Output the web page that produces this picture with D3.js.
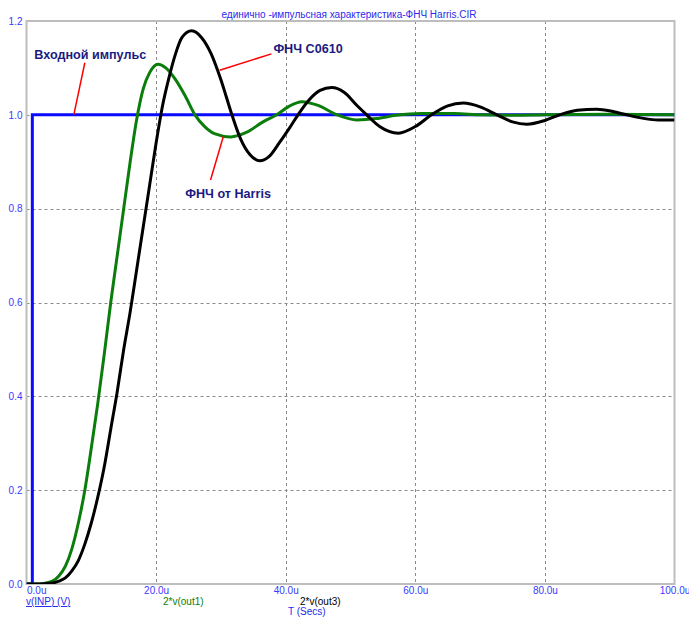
<!DOCTYPE html>
<html><head><meta charset="utf-8">
<script src="https://cdn.jsdelivr.net/npm/d3@7"></script>
<style>
html,body{margin:0;padding:0;background:#fff;}
svg{display:block;font-family:Arial,"Liberation Sans",sans-serif;}
</style></head>
<body><svg id="chart" width="689" height="617"></svg>
<script>
const chartTitle = "единично -импульсная характеристика-ФНЧ Harris.CIR";
const xTickValues = [0, 20, 40, 60, 80, 100];
const xTickLabels = ["0.0u", "20.0u", "40.0u", "60.0u", "80.0u", "100.0u"];
const yTickValues = [0, 0.2, 0.4, 0.6, 0.8, 1.0, 1.2];
const yTickLabels = ["0.0", "0.2", "0.4", "0.6", "0.8", "1.0", "1.2"];

// input pulse v(INP)
const inpTime = [0, 0.9, 0.9, 100];
const inpValues = [0, 0, 1.0, 1.0];

// 2*v(out1) — ФНЧ от Harris (green)
const out1Time = [0, 2, 3, 4, 5, 6, 7, 8, 9, 10, 11, 12, 13, 14, 15, 16, 17, 18, 19, 20.3, 21.5, 23, 24.5, 26, 27.5, 29, 31.5, 34, 36.5, 38.6, 40.5, 42.5, 45, 47.9, 51, 54, 57, 61, 66, 70, 75, 80, 90, 100];
const out1Values = [0, 0, 0.002, 0.006, 0.017, 0.038, 0.075, 0.13, 0.2, 0.29, 0.385, 0.49, 0.6, 0.7, 0.8, 0.9, 0.99, 1.055, 1.09, 1.108, 1.1, 1.075, 1.04, 1.0, 0.975, 0.96, 0.953, 0.963, 0.985, 1.0, 1.018, 1.028, 1.02, 1.0, 0.989, 0.992, 0.999, 1.003, 1.003, 1.0, 0.999, 1.0, 1.001, 1.0];

// 2*v(out3) — ФНЧ С0610 (black)
const out3Time = [0, 2, 4, 5, 6, 7, 8, 9, 10, 11, 12, 13, 14, 15, 16, 17, 18, 19, 20, 21, 22, 23, 24, 25.5, 27, 28.5, 30, 31.7, 33, 34.5, 36, 37.5, 39, 40.5, 41.9, 43.5, 45.3, 47.1, 49, 51, 52.5, 54.5, 57.4, 60, 62.5, 65, 67.4, 70, 72.6, 75, 77.2, 80, 82.3, 85, 88, 90.5, 92.6, 95, 97.5, 100];
const out3Values = [0, 0, 0.002, 0.006, 0.013, 0.028, 0.05, 0.085, 0.13, 0.185, 0.25, 0.33, 0.41, 0.5, 0.58, 0.67, 0.76, 0.85, 0.94, 1.02, 1.08, 1.13, 1.165, 1.179, 1.165, 1.13, 1.075, 1.0, 0.95, 0.915, 0.902, 0.912, 0.94, 0.97, 1.0, 1.03, 1.052, 1.058, 1.048, 1.02, 1.0, 0.975, 0.961, 0.975, 1.0, 1.019, 1.025, 1.017, 1.0, 0.985, 0.980, 0.988, 1.0, 1.01, 1.012, 1.007, 1.0, 0.993, 0.989, 0.989];

const legendLabels = ["v(INP) (V)", "2*v(out1)", "2*v(out3)"];
const xAxisTitle = "T (Secs)";

const annotations = [
  {text: "Входной импульс", tx: 1.2, ty: 1.119, from: [9.0, 1.111], to: [7.3, 1.0]},
  {text: "ФНЧ С0610", tx: 38.1, ty: 1.131, from: [37.8, 1.130], to: [29.8, 1.095]},
  {text: "ФНЧ от Harris", tx: 24.5, ty: 0.823, from: [30.4, 0.955], to: [28.4, 0.861]}
];

const svg = d3.select("#chart");
const L = 26.5, R = 674.5, T = 21, B = 584;
const x = d3.scaleLinear().domain([0, 100]).range([L, R]);
const y = d3.scaleLinear().domain([0, 1.2]).range([B, T]);

// title
svg.append("text").attr("x", 349).attr("y", 18).attr("text-anchor", "middle")
  .attr("font-size", 10).attr("fill", "#2a2aee").text(chartTitle);

// grid
const grid = svg.append("g");
grid.selectAll("line.h").data(yTickValues.filter(v => v > 0 && v < 1.2)).join("line")
  .attr("x1", L).attr("x2", R).attr("y1", d => Math.round(y(d)) + 0.5).attr("y2", d => Math.round(y(d)) + 0.5)
  .attr("stroke", "#8a8a8a").attr("stroke-dasharray", "3,3");
grid.selectAll("line.v").data(xTickValues.filter(v => v > 0 && v < 100)).join("line")
  .attr("y1", T).attr("y2", B).attr("x1", d => Math.round(x(d)) + 0.5).attr("x2", d => Math.round(x(d)) + 0.5)
  .attr("stroke", "#8a8a8a").attr("stroke-dasharray", "3,3");

// frame
svg.append("rect").attr("x", L).attr("y", T).attr("width", R - L).attr("height", B - T)
  .attr("fill", "none").attr("stroke", "#bdbdbd").attr("stroke-width", 2);

// axes labels
const yAxis = d3.axisLeft(y).tickValues(yTickValues).tickFormat((d, i) => yTickLabels[i]).tickSize(0).tickPadding(4);
const gy = svg.append("g").attr("transform", `translate(${L},0)`).call(yAxis);
gy.select(".domain").remove();
gy.selectAll("text").attr("font-size", 10).attr("fill", "#3a3aff").attr("font-family", "Arial, 'Liberation Sans', sans-serif");

const xAxis = d3.axisBottom(x).tickValues(xTickValues).tickFormat((d, i) => xTickLabels[i]).tickSize(0).tickPadding(2.5);
const gx = svg.append("g").attr("transform", `translate(0,${B})`).call(xAxis);
gx.select(".domain").remove();
gx.selectAll("text").attr("font-size", 10).attr("fill", "#3a3aff").attr("font-family", "Arial, 'Liberation Sans', sans-serif")
  .attr("text-anchor", (d, i) => i === 0 ? "start" : "middle");

// lines
const clip = svg.append("clipPath").attr("id", "clip").append("rect")
  .attr("x", L).attr("y", T - 2).attr("width", R - L).attr("height", B - T + 2);
const plot = svg.append("g").attr("clip-path", "url(#clip)");
const mk = (ts, vs) => ts.map((t, i) => [t, vs[i]]);
const lineLin = d3.line().x(d => x(d[0])).y(d => y(d[1]));
const lineSm = d3.line().x(d => x(d[0])).y(d => y(d[1])).curve(d3.curveMonotoneX);

plot.append("path").datum(mk(inpTime, inpValues)).attr("d", lineLin)
  .attr("fill", "none").attr("stroke", "#0a0aff").attr("stroke-width", 3);
plot.append("path").datum(mk(out1Time, out1Values)).attr("d", lineSm)
  .attr("fill", "none").attr("stroke", "#0b7d0b").attr("stroke-width", 3);
plot.append("path").datum(mk(out3Time, out3Values)).attr("d", lineSm)
  .attr("fill", "none").attr("stroke", "#000").attr("stroke-width", 3);

// annotations
annotations.forEach(a => {
  svg.append("line").attr("x1", x(a.from[0])).attr("y1", y(a.from[1]))
    .attr("x2", x(a.to[0])).attr("y2", y(a.to[1])).attr("stroke", "#ff0000").attr("stroke-width", 1.5);
  svg.append("text").attr("x", x(a.tx)).attr("y", y(a.ty)).attr("font-size", 12.6).attr("font-weight", "bold")
    .attr("fill", "#1b1b80").text(a.text);
});

// bottom legend
const legColors = ["#2a2aee", "#0b7d0b", "#000"];
const legX = [26, 163, 300];
legendLabels.forEach((t, i) => {
  const tx = svg.append("text").attr("x", legX[i]).attr("y", 605).attr("font-size", 10).attr("fill", legColors[i]).text(t);
  if (i === 0) tx.attr("text-decoration", "underline");
});
svg.append("text").attr("x", 288).attr("y", 614.5).attr("font-size", 10).attr("fill", "#2a2aee").text(xAxisTitle);
</script></body></html>
